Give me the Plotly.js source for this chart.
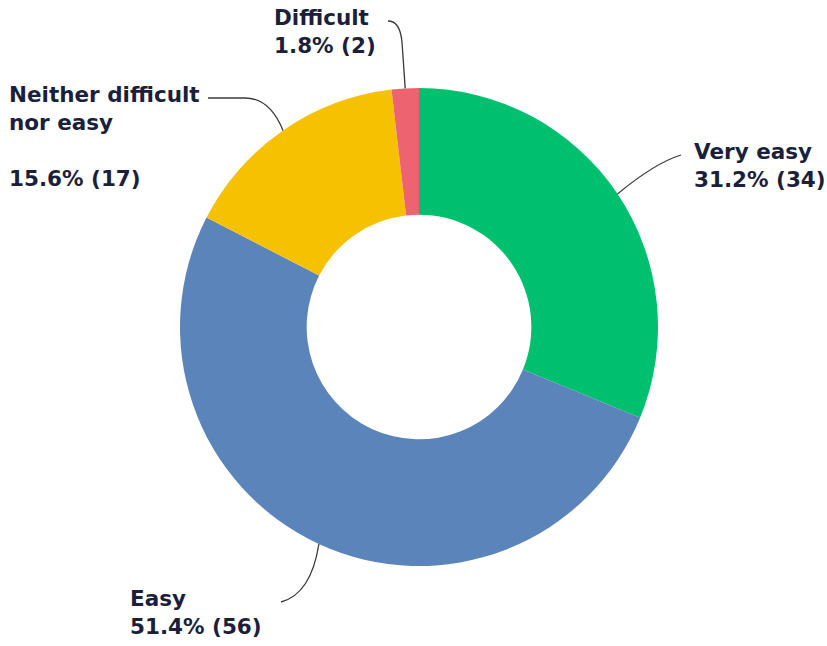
<!DOCTYPE html>
<html>
<head>
<meta charset="utf-8">
<script src="https://cdn.plot.ly/plotly-3.0.1.min.js"></script>
<style>html,body{margin:0;padding:0;background:#fff;}#chart{width:827px;height:646px;}</style>
</head>
<body>
<div id="chart"></div>
<script>
// ---- data ----
const labels = ['Very easy', 'Easy', 'Neither difficult nor easy', 'Difficult'];
const labelLines = ['Very easy', 'Easy', 'Neither difficult<br>nor easy<br>', 'Difficult'];
const counts = [34, 56, 17, 2];
const percents = ['31.2%', '51.4%', '15.6%', '1.8%'];
const colors = ['#00BF6F', '#5B84BB', '#F6C100', '#EE6370'];

// ---- layout constants (pixels) ----
const W = 827, H = 646;
const CX = 419, CY = 327, R = 239;
const HOLE = 0.47;
const px = x => x / W;
const py = y => 1 - y / H;

// label text positions (left, top) in pixels
const labelPos = [[692, 137], [128, 584], [7, 80], [272, 3]];
// leader path tails after anchor (pixels)
const leaderTail = [
  `Q 655 163 681 155`,
  `Q 311 594 281 602`,
  `Q 270 98 245 98 L 208 98`,
  `L 402 42 Q 400 21 388 21`
];

const total = counts.reduce((s, v) => s + v, 0);
let cum = 0;
const anchors = counts.map(v => {
  const mid = (cum + v / 2) / total * 2 * Math.PI;
  cum += v;
  return [CX + R * Math.sin(mid), CY - R * Math.cos(mid)];
});

function pathPaper(d) {
  const toks = d.split(/\s+/);
  const out = [];
  let isX = true;
  for (const t of toks) {
    if (/^[A-Za-z]$/.test(t)) { out.push(t); isX = true; continue; }
    const n = parseFloat(t);
    out.push(isX ? px(n).toFixed(5) : py(n).toFixed(5));
    isX = !isX;
  }
  return out.join(' ');
}

const shapes = anchors.map((a, i) => ({
  type: 'path', xref: 'paper', yref: 'paper',
  path: pathPaper(`M ${a[0].toFixed(1)} ${a[1].toFixed(1)} ` + leaderTail[i]),
  line: {color: '#3a3a3a', width: 1.3}
}));

const annotations = labels.map((l, i) => ({
  xref: 'paper', yref: 'paper',
  x: px(labelPos[i][0]), y: py(labelPos[i][1]),
  xanchor: 'left', yanchor: 'top', align: 'left',
  showarrow: false,
  text: `${labelLines[i]}<br>${percents[i]} (${counts[i]})`,
  font: {family: '"DejaVu Sans", Arial, sans-serif', size: 21.5, color: '#1b1f3b', weight: 700}
}));

const trace = {
  type: 'pie',
  labels: labels,
  values: counts,
  hole: HOLE,
  sort: false,
  direction: 'clockwise',
  rotation: 0,
  textinfo: 'none',
  hoverinfo: 'label+percent+value',
  marker: {colors: colors, line: {width: 0}},
  domain: {x: [px(CX - R), px(CX + R)], y: [py(CY + R), py(CY - R)]},
  showlegend: false
};

const layout = {
  width: W, height: H,
  margin: {l: 0, r: 0, t: 0, b: 0},
  paper_bgcolor: '#ffffff',
  showlegend: false,
  shapes: shapes,
  annotations: annotations
};

Plotly.newPlot('chart', [trace], layout, {displayModeBar: false, staticPlot: true});
</script>
</body>
</html>
